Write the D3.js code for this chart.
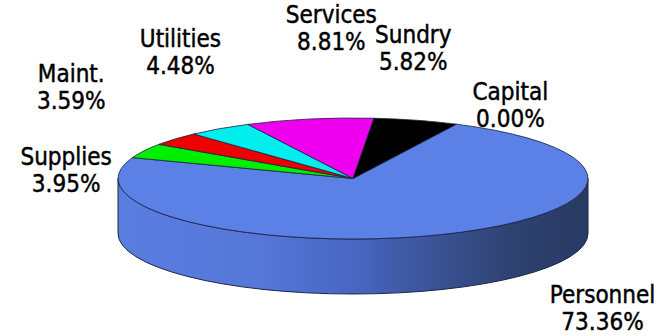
<!DOCTYPE html>
<html>
<head>
<meta charset="utf-8">
<script src="https://cdn.jsdelivr.net/npm/d3@7"></script>
<style>
  html, body { margin: 0; padding: 0; background: #fff; }
  svg { display: block; }
  .lbl { font-family: "DejaVu Sans Condensed", "DejaVu Sans", sans-serif; font-stretch: condensed; font-size: 24px; fill: #000; stroke: #000; stroke-width: 0.45px; }
</style>
</head>
<body>
<svg id="chart" width="671" height="336"></svg>
<script>
// Budget shares by category (percent)
const categories = ["Personnel", "Supplies", "Maint.", "Utilities", "Services", "Sundry", "Capital"];
const shares = [73.36, 3.95, 3.59, 4.48, 8.81, 5.82, 0.00];

// Slice fills
const sliceColors = ["#5b80e6", "#00ee00", "#ee0000", "#00eeee", "#ee00ee", "#000000", "#5b80e6"];

// Label nudges (x, y of the name baseline) relative to each slice's rim midpoint
const labelOffsets = [[162, 68], [-78, 14], [-104, -57], [-39, -82], [22, -96], [-3, -77], [54, -24]];

const svg = d3.select("#chart");
const cx = 353, cy = 178.5, rx = 235, ry = 60.5, depth = 55;
const tilt = ry / rx;
const start = 26.1 * Math.PI / 180;
const lineGap = 27;

const data = categories.map((name, i) => ({ name, value: shares[i], color: sliceColors[i] }));
const pie = d3.pie().sort(null).value(d => d.value)
  .startAngle(start).endAngle(start + 2 * Math.PI);
const arcs = pie(data);

const ex = a => cx + rx * Math.sin(a);
const ey = a => cy - ry * Math.cos(a);

// Side wall gradient, light on the left fading to navy on the right
const defs = svg.append("defs");
const grad = defs.append("linearGradient")
  .attr("id", "wall").attr("gradientUnits", "userSpaceOnUse")
  .attr("x1", cx - rx).attr("x2", cx + rx).attr("y1", 0).attr("y2", 0);
[[0, "#5a7de0"], [0.3, "#5577d8"], [0.5, "#4966c2"], [0.68, "#3a5294"], [0.85, "#2e416f"], [1, "#283a62"]]
  .forEach(([o, c]) => grad.append("stop").attr("offset", o).attr("stop-color", c));

// Visible front part of each slice's wall
function frontSpans(s, e) {
  const spans = [];
  for (let k = -1; k <= 1; k++) {
    const lo = Math.PI / 2 + 2 * Math.PI * k, hi = 3 * Math.PI / 2 + 2 * Math.PI * k;
    const a0 = Math.max(s, lo), a1 = Math.min(e, hi);
    if (a1 > a0) spans.push([a0, a1]);
  }
  return spans;
}

const walls = [];
arcs.forEach(d => frontSpans(d.startAngle, d.endAngle).forEach(sp => walls.push({ d, sp })));

svg.append("g").selectAll("path").data(walls).join("path")
  .attr("d", ({ sp: [a0, a1] }) =>
    `M${ex(a0)},${ey(a0)} A${rx},${ry} 0 0 1 ${ex(a1)},${ey(a1)}` +
    ` L${ex(a1)},${ey(a1) + depth} A${rx},${ry} 0 0 0 ${ex(a0)},${ey(a0) + depth} Z`)
  .attr("fill", ({ d }) => d.data.color === "#5b80e6" ? "url(#wall)" : d3.color(d.data.color).darker(0.8))
  .attr("stroke", "#1b2547").attr("stroke-width", 1).attr("stroke-linejoin", "round");

// Top face
const arc = d3.arc().innerRadius(0).outerRadius(rx);
svg.append("g")
  .attr("transform", `translate(${cx},${cy}) scale(1,${tilt})`)
  .selectAll("path").data(arcs.filter(d => d.value > 0)).join("path")
  .attr("d", arc)
  .attr("fill", d => d.data.color)
  .attr("stroke", "#1c2040").attr("stroke-width", 0.8)
  .attr("vector-effect", "non-scaling-stroke");

// Labels
const fmt = d3.format(".2f");
const labels = svg.append("g").selectAll("g").data(arcs).join("g")
  .attr("transform", (d, i) => {
    const m = (d.startAngle + d.endAngle) / 2;
    return `translate(${ex(m) + labelOffsets[i][0]},${ey(m) + labelOffsets[i][1]})`;
  });
labels.append("text").attr("class", "lbl").attr("text-anchor", "middle")
  .text(d => d.data.name);
labels.append("text").attr("class", "lbl").attr("text-anchor", "middle").attr("y", lineGap)
  .text(d => fmt(d.data.value) + "%");
</script>
</body>
</html>
